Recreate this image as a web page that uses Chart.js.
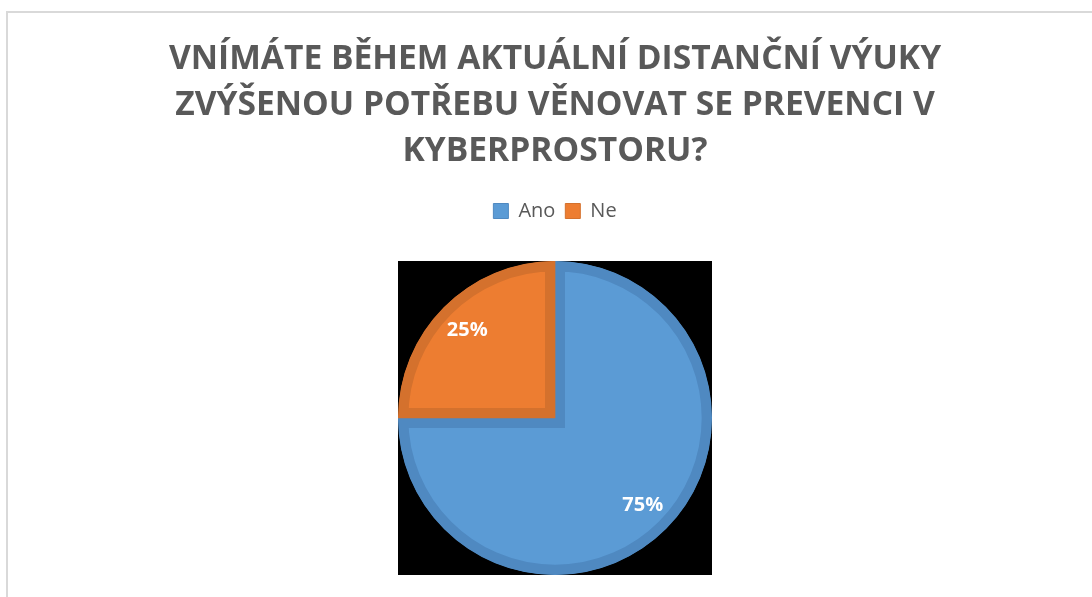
<!DOCTYPE html>
<html>
<head>
<meta charset="utf-8">
<script src="https://cdn.jsdelivr.net/npm/chart.js@4.4.1/dist/chart.umd.min.js"></script>
<style>
  html, body { margin: 0; padding: 0; background: #fff; overflow: hidden; }
  body { width: 1092px; height: 597px; position: relative; }
  #frame { position: absolute; left: 6px; top: 11px; width: 1200px; height: 700px; border: 2px solid #D9D9D9; box-sizing: border-box; }
  #wrap { position: absolute; left: 6px; top: 11px; width: 1098px; height: 586px; }
</style>
</head>
<body>
<div id="frame"></div>
<div id="wrap"><canvas id="c"></canvas></div>
<script>
const titleLines = [
  "VNÍMÁTE BĚHEM AKTUÁLNÍ DISTANČNÍ VÝUKY",
  "ZVÝŠENOU POTŘEBU VĚNOVAT SE PREVENCI V",
  "KYBERPROSTORU?"
];
const categories = ["Ano", "Ne"];
const values = [75, 25];
const labelsText = ["75%", "25%"];
const fillColors = ["#5B9BD5", "#ED7D31"];
const edgeColors = ["#4F89C1", "#D4712D"];

const legendGap = {
  id: 'legendGap',
  beforeInit(chart) {
    const lg = chart.legend;
    if (!lg) return;
    const origFit = lg.fit;
    lg.fit = function () { origFit.call(this); this.height += 30; };
  }
};

const squareBg = {
  id: 'squareBg',
  beforeDatasetsDraw(chart) {
    const arc = chart.getDatasetMeta(0).data[0];
    if (!arc) return;
    const r = arc.outerRadius;
    const ctx = chart.ctx;
    ctx.save();
    ctx.fillStyle = '#000';
    ctx.fillRect(Math.round(arc.x - r), Math.round(arc.y - r), Math.round(2 * r), Math.round(2 * r));
    ctx.restore();
  }
};

const sliceLabels = {
  id: 'sliceLabels',
  afterDatasetsDraw(chart) {
    const meta = chart.getDatasetMeta(0);
    const ctx = chart.ctx;
    ctx.save();
    ctx.fillStyle = '#FFFFFF';
    ctx.font = 'bold 20px "Open Sans"';
    ctx.textAlign = 'center';
    ctx.textBaseline = 'middle';
    meta.data.forEach((arc, i) => {
      const mid = (arc.startAngle + arc.endAngle) / 2;
      const d = arc.outerRadius * 0.79;
      ctx.fillText(labelsText[i], arc.x + Math.cos(mid) * d, arc.y + Math.sin(mid) * d);
    });
    ctx.restore();
  }
};

new Chart(document.getElementById('c'), {
  type: 'pie',
  data: {
    labels: categories,
    datasets: [{
      data: values,
      backgroundColor: fillColors,
      borderColor: edgeColors,
      borderWidth: 10,
      borderAlign: 'inner',
      borderJoinStyle: 'miter',
      hoverOffset: 0
    }]
  },
  options: {
    responsive: true,
    maintainAspectRatio: false,
    animation: false,
    layout: { padding: { top: 0, bottom: 22, left: 0, right: 0 } },
    plugins: {
      title: {
        display: true,
        text: titleLines,
        color: '#595959',
        font: { family: 'Open Sans', weight: 'bold', size: 33.6, lineHeight: 46 / 33.6 },
        padding: { top: 25, bottom: 17 }
      },
      legend: {
        display: true,
        position: 'top',
        labels: {
          color: '#595959',
          font: { family: 'Open Sans', size: 20 },
          boxWidth: 15,
          boxHeight: 15,
          padding: 10,
          generateLabels(chart) {
            return categories.map((c, i) => ({
              text: c,
              fillStyle: fillColors[i],
              strokeStyle: edgeColors[i],
              lineWidth: 1,
              fontColor: '#595959',
              index: i,
              hidden: false
            }));
          }
        }
      },
      tooltip: { enabled: false }
    }
  },
  plugins: [legendGap, squareBg, sliceLabels]
});
</script>
</body>
</html>
